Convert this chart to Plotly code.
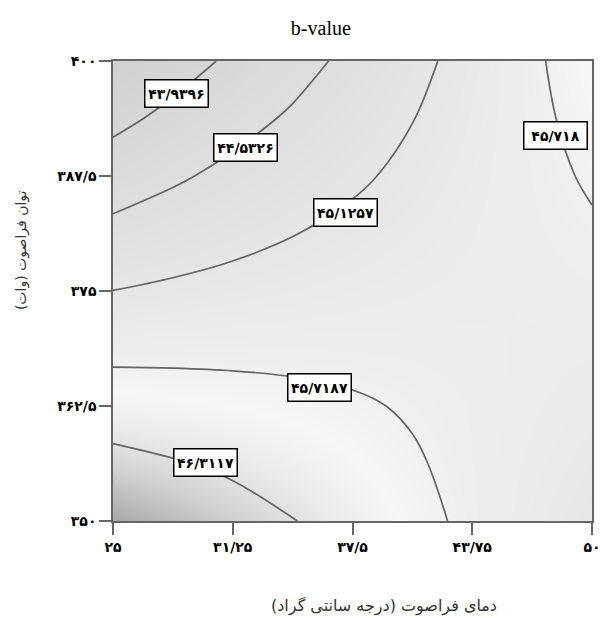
import plotly.graph_objects as go

# Ultrasound temperature (°C) grid positions
temp = [25.0, 28.125, 31.25, 34.375, 37.5, 40.625, 43.75, 46.875, 50.0]
# Ultrasound power (W) grid positions
power = [350.0, 356.25, 362.5, 368.75, 375.0, 381.25, 387.5, 393.75, 400.0]

# b-value (rows = power, columns = temperature)
b_350 = [46.910, 46.724, 46.530, 46.329, 46.110, 45.860, 45.620, 45.400, 45.180]
b_356 = [46.465, 46.346, 46.219, 46.085, 45.935, 45.760, 45.600, 45.450, 45.290]
b_362 = [46.020, 45.968, 45.909, 45.842, 45.768, 45.680, 45.590, 45.495, 45.395]
b_369 = [45.575, 45.590, 45.598, 45.598, 45.591, 45.577, 45.554, 45.525, 45.488]
b_375 = [45.130, 45.213, 45.288, 45.355, 45.415, 45.468, 45.513, 45.550, 45.580]
b_381 = [44.685, 44.835, 44.977, 45.112, 45.239, 45.358, 45.471, 45.575, 45.673]
b_388 = [44.240, 44.457, 44.666, 44.860, 45.050, 45.235, 45.420, 45.601, 45.765]
b_394 = [43.795, 44.079, 44.350, 44.600, 44.860, 45.115, 45.370, 45.626, 45.858]
b_400 = [43.350, 43.701, 44.030, 44.340, 44.660, 44.990, 45.310, 45.651, 45.950]
b_value = [b_350, b_356, b_362, b_369, b_375, b_381, b_388, b_394, b_400]

# contour levels
level_start = 43.9396
level_end = 46.3117
level_step = 0.593025

# contour labels
label_text = ["۴۳/۹۳۹۶", "۴۴/۵۳۲۶", "۴۵/۱۲۵۷", "۴۵/۷۱۸", "۴۵/۷۱۸۷", "۴۶/۳۱۱۷"]
label_temp = [28.34, 31.89, 37.16, 48.07, 35.80, 29.85]
label_power = [396.5, 390.65, 383.48, 391.85, 364.46, 356.4]

x_tickvals = [25, 31.25, 37.5, 43.75, 50]
x_ticktext = ["۲۵", "۳۱/۲۵", "۳۷/۵", "۴۳/۷۵", "۵۰"]
y_tickvals = [350, 362.5, 375, 387.5, 400]
y_ticktext = ["۳۵۰", "۳۶۲/۵", "۳۷۵", "۳۸۷/۵", "۴۰۰"]

gray_scale = [
    [0.0, "rgb(209,209,209)"],
    [0.18, "rgb(216,216,216)"],
    [0.35, "rgb(223,223,223)"],
    [0.52, "rgb(231,231,231)"],
    [0.64, "rgb(238,238,238)"],
    [0.72, "rgb(247,247,247)"],
    [0.80, "rgb(234,234,234)"],
    [0.885, "rgb(210,210,210)"],
    [1.0, "rgb(168,168,168)"],
]

fig = go.Figure()
fig.add_trace(go.Contour(
    x=temp, y=power, z=b_value,
    zmin=43.35, zmax=46.91,
    colorscale=gray_scale, showscale=False,
    contours=dict(start=level_start, end=level_end, size=level_step,
                  coloring="heatmap", showlabels=False),
    line=dict(color="#646464", width=1.7, smoothing=1.0),
    hoverinfo="skip",
))

for t, xx, yy in zip(label_text, label_temp, label_power):
    fig.add_annotation(
        x=xx, y=yy, xref="x", yref="y", text=t, showarrow=False,
        xanchor="center", yanchor="middle",
        font=dict(family="DejaVu Sans", size=14, color="black", weight="bold"),
        bgcolor="white", bordercolor="black", borderwidth=1.5, borderpad=2,
        width=58, height=22,
    )

axis_font = dict(family="DejaVu Sans", size=14, color="black", weight="bold")

fig.update_xaxes(
    range=[25, 50], tickvals=x_tickvals, ticktext=x_ticktext,
    ticks="outside", ticklen=12, tickwidth=1.5, tickcolor="#666",
    showline=True, mirror=True, linecolor="#666", linewidth=1.5,
    showgrid=False, zeroline=False, tickfont=axis_font, automargin=False,
)
fig.update_yaxes(
    range=[350, 400], tickvals=y_tickvals, ticktext=y_ticktext,
    ticks="outside", ticklen=12, tickwidth=1.5, tickcolor="#666",
    showline=True, mirror=True, linecolor="#666", linewidth=1.5,
    showgrid=False, zeroline=False, tickfont=axis_font, automargin=False,
)

fig.add_annotation(
    x=0.566, y=-0.185, xref="paper", yref="paper",
    xanchor="center", yanchor="middle",
    text="دمای فراصوت (درجه سانتی گراد)", showarrow=False,
    font=dict(family="DejaVu Sans", size=16, color="#333"),
)
fig.add_annotation(
    x=-0.192, y=0.589, xref="paper", yref="paper",
    xanchor="center", yanchor="middle",
    text="توان فراصوت (وات)", showarrow=False, textangle=-90,
    font=dict(family="DejaVu Sans", size=14, color="#333"),
)

fig.update_layout(
    width=602, height=618,
    margin=dict(l=113, r=10, t=61, b=97, autoexpand=False),
    paper_bgcolor="white", plot_bgcolor="white",
    title=dict(text="b-value", x=0.533, xref="container", y=0.955,
               yref="container", xanchor="center", yanchor="middle",
               font=dict(family="Liberation Serif", size=20, color="black")),
    showlegend=False,
)

fig.write_html(
    "out.html",
    config={"displayModeBar": False},
    post_script="document.body.style.margin='0';document.body.style.overflow='hidden';",
)
